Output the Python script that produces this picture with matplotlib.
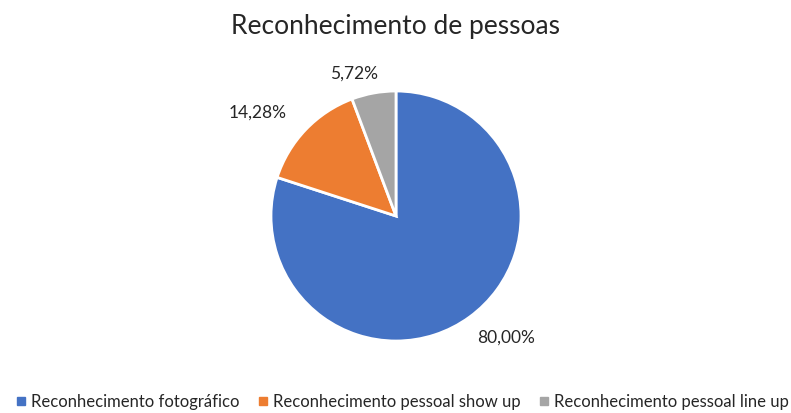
import numpy as np
import matplotlib.pyplot as plt
from matplotlib.lines import Line2D

labels = ['Reconhecimento fotográfico', 'Reconhecimento pessoal show up', 'Reconhecimento pessoal line up']
values = [80.00, 14.28, 5.72]
colors = ['#4472C4', '#ED7D31', '#A5A5A5']

plt.rcParams['font.family'] = ['Lato', 'DejaVu Sans']

fig = plt.figure(figsize=(7.91, 4.13), dpi=100)
ax = fig.add_axes([0.3426, 0.1743, 250 / 791, 250 / 413])

wedges, texts = ax.pie(values, colors=colors, startangle=90, counterclock=False,
                       wedgeprops=dict(edgecolor='white', linewidth=2))
ax.set_xlim(-1, 1)
ax.set_ylim(-1, 1)
ax.set_aspect('equal')

# percentage labels outside the slices (slightly rotated like excel's best fit)
for w, v, d, off in zip(wedges, values, [1.31, 1.38, 1.19], [6, 7, 6]):
    ang = np.deg2rad((w.theta1 + w.theta2) / 2 + off)
    ax.text(d * np.cos(ang), d * np.sin(ang), f'{v:.2f}%'.replace('.', ','),
            ha='center', va='center', fontsize=12.5, color='#262626')

fig.text(0.5, 0.935, 'Reconhecimento de pessoas', ha='center', va='center',
         fontsize=19, color='#262626')

handles = [Line2D([], [], marker='s', linestyle='none', markersize=6,
                  markerfacecolor=c, markeredgecolor=c) for c in colors]
fig.legend(handles, labels, loc='center', bbox_to_anchor=(0.508, 0.027), ncol=3,
           frameon=False, fontsize=12, handletextpad=0.2, columnspacing=1.0,
           handlelength=0.8, labelcolor='#262626')

fig.savefig('out.png', dpi=100)
